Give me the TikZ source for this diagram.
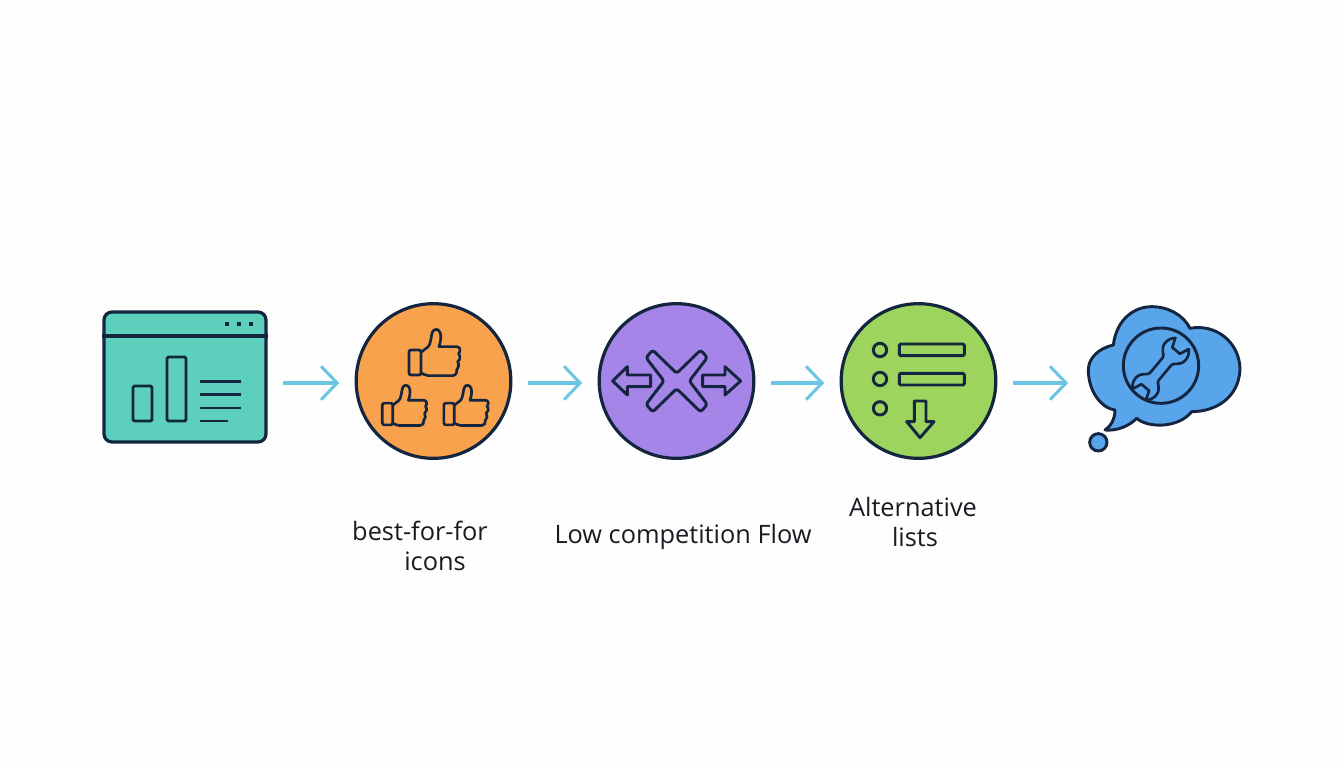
\documentclass[tikz,border=0pt]{standalone}
\usepackage{fontspec}
\setmainfont{Open Sans}
\usetikzlibrary{arrows.meta}
\definecolor{ink}{HTML}{14263F}
\definecolor{flowblue}{HTML}{6CC5E4}
\definecolor{teal}{HTML}{5CD0BC}
\definecolor{orangefill}{HTML}{F9A24E}
\definecolor{purplefill}{HTML}{A585E8}
\definecolor{greenfill}{HTML}{9CD45E}
\definecolor{bluefill}{HTML}{59A5EC}
\definecolor{labelink}{HTML}{1A1A22}
\definecolor{paper}{HTML}{FEFEFE}
\tikzset{
  flow/.style={draw=flowblue,line width=2.3pt,-{Straight Barb[length=12pt,width=25pt]},shorten <=11.5pt,shorten >=11.5pt},
  disc/.style={circle,draw=ink,line width=2.4pt,minimum size=116pt,inner sep=0pt},
  icon/.style={draw=ink,line width=2.2pt,line join=round},
  thin icon/.style={draw=ink,line width=2pt,line join=round},
  lbl/.style={text=labelink,font=\fontsize{19pt}{22.5pt}\selectfont,align=center,inner sep=0pt},
  thumbicon/.pic={
    \draw[thin icon,rounded corners=1.5pt] (2,65) rectangle (38,140);
    \draw[thin icon] (38,72) -- (60,55) .. controls (68,45) and (68,25) .. (72,12)
      .. controls (76,0) and (92,0) .. (96,14) .. controls (100,28) and (96,42) .. (92,55)
      -- (145,55) .. controls (156,55) and (158,68) .. (151,76)
      .. controls (158,84) and (155,96) .. (148,100)
      .. controls (154,108) and (150,120) .. (145,124)
      .. controls (147,134) and (142,142) .. (132,142)
      -- (60,142) .. controls (50,142) and (45,136) .. (38,134);
  }
}
\begin{document}
\begin{tikzpicture}[x=0.75pt,y=-0.75pt]
\useasboundingbox (0,0) rectangle (1344,768);
\fill[paper] (0,0) rectangle (1344,768);
\coordinate (flowline) at (0,383);
% window
\node[draw=ink,fill=teal,line width=2.4pt,rounded corners=6pt,minimum width=121.5pt,minimum height=97.5pt,inner sep=0pt] (win) at (185,377) {};
\draw[icon,line width=2.4pt] (win.west |- 0,336) -- (win.east |- 0,336);
\foreach \x in {227,239,251} \fill[ink] (\x-1.8,322.2) rectangle (\x+1.8,325.8);
\draw[icon,rounded corners=1pt] (133,386) rectangle (152,421);
\draw[icon,rounded corners=1pt] (167,357) rectangle (186,421);
\draw[icon] (200,381.5) -- (241,381.5) (200,394.5) -- (241,394.5) (200,408) -- (241,408) (200,421) -- (228,421);
% discs
\node[disc,fill=orangefill] (c1) at (433.5,381) {};
\node[disc,fill=purplefill] (c2) at (676.5,381) {};
\node[disc,fill=greenfill] (c3) at (918.5,381) {};
% thumbs
\pic[scale=0.3333] at (408.3,328.3) {thumbicon};
\pic[scale=0.29] at (381.7,384.3) {thumbicon};
\pic[scale=0.29] at (443.3,384.3) {thumbicon};
% crossing
\begin{scope}[shift={(590,295)},scale=0.3333]
\draw[icon,rounded corners=2pt] (188,165) -- (260,235) -- (332,165) -- (352,188) -- (298,258) -- (352,328) -- (332,351) -- (260,281) -- (188,351) -- (168,328) -- (222,258) -- (168,188) -- cycle;
\draw[icon] (182,240) -- (112,240) -- (112,215) -- (68,258) -- (112,300) -- (112,275) -- (182,275) -- cycle;
\draw[icon] (338,240) -- (405,240) -- (405,215) -- (452,258) -- (405,300) -- (405,275) -- (338,275) -- cycle;
\end{scope}
% list
\begin{scope}[shift={(830,295)},scale=0.3333]
\foreach \y in {165,252,340} \draw[icon] (150,\y) circle (20);
\draw[icon,rounded corners=1pt] (208,147) rectangle (403,182);
\draw[icon,rounded corners=1pt] (208,235) rectangle (403,270);
\draw[icon] (253,318) -- (288,318) -- (288,380) -- (312,380) -- (270,428) -- (230,380) -- (253,380) -- cycle;
\end{scope}
% cloud
\begin{scope}[shift={(1075,295)},scale=0.3333]
\draw[icon,fill=bluefill] (90,405) .. controls (105,395) and (120,375) .. (120,345)
  .. controls (80,340) and (40,290) .. (40,225)
  .. controls (40,190) and (70,160) .. (115,150)
  .. controls (125,70) and (180,35) .. (230,35)
  .. controls (280,35) and (325,60) .. (345,100)
  .. controls (420,85) and (495,140) .. (495,225)
  .. controls (490,310) and (420,350) .. (350,350)
  .. controls (310,400) and (220,400) .. (185,370)
  .. controls (160,395) and (125,408) .. (90,405) -- cycle;
\draw[icon] (258,212) circle (113);
\draw[icon,fill=bluefill] (70,442) circle (26);
\begin{scope}[shift={(257,222)},rotate=50]
\draw[thin icon] (-30,-17) -- (30,-17) .. controls (40,-17) and (44,-38) .. (66,-40)
  .. controls (80,-41) and (90,-36) .. (100,-26) -- (72,-15) -- (72,15) -- (100,26)
  .. controls (90,36) and (80,41) .. (66,40) .. controls (44,38) and (40,17) .. (30,17)
  -- (-30,17) .. controls (-40,17) and (-44,38) .. (-66,40)
  .. controls (-80,41) and (-90,36) .. (-100,26) -- (-72,15) -- (-72,-15) -- (-100,-26)
  .. controls (-90,-36) and (-80,-41) .. (-66,-40) .. controls (-44,-38) and (-40,-17) .. (-30,-17) -- cycle;
\end{scope}
\end{scope}
\coordinate (cloudin) at (1083.5,383);
% connectors
\draw[flow] (win.east |- flowline) -- (c1.west |- flowline);
\draw[flow] (c1.east |- flowline) -- (c2.west |- flowline);
\draw[flow] (c2.east |- flowline) -- (c3.west |- flowline);
\draw[flow] (c3.east |- flowline) -- (cloudin);
% labels
\node[lbl] (l1) at (420,546) {best-for-for\\\hspace*{22.5pt}icons};
\node[lbl] (l2) at (683,537) {Low competition Flow};
\node[lbl] (l3) at (913,522) {Alternative\\\hspace*{3pt}lists};
\end{tikzpicture}
\end{document}
